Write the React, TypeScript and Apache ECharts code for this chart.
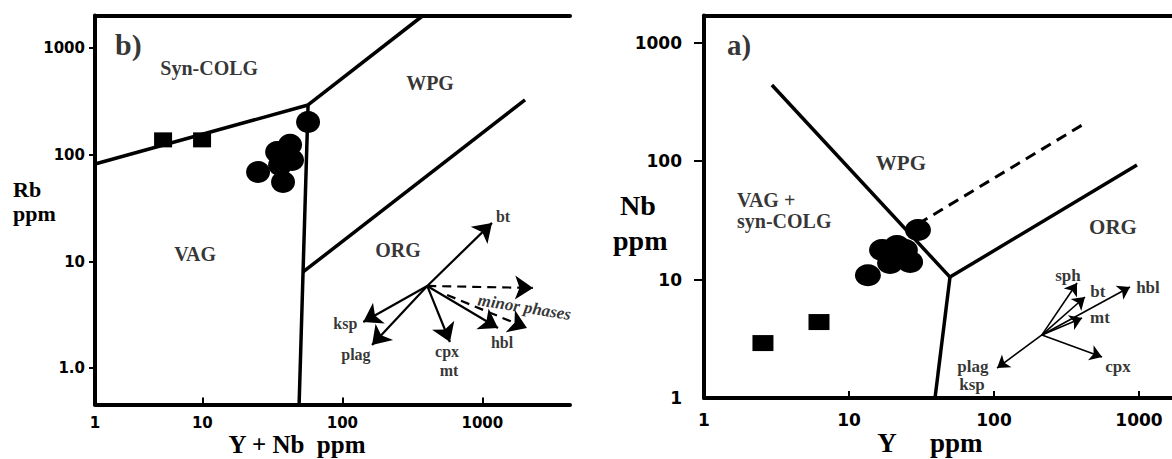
import React, { useEffect, useRef } from "react";
import * as echarts from "echarts";

type P = [number, number];

// ===== Panel b) : Rb (ppm) versus Y + Nb (ppm) =====
const bXRange: P = [1.71, 4230];
const bYRange: P = [0.457, 2020];
const bXTickValues = [1, 10, 100, 1000];
const bXTickTexts = ["1", "10", "100", "1000"];
const bYTickValues = [1, 10, 100, 1000];
const bYTickTexts = ["1.0", "10", "100", "1000"];

const bSquares: P[] = [[5.24, 138], [9.95, 138]];
const bCircles: P[] = [
  [56.9, 203], [25.0, 69], [37.7, 55.7], [42.3, 124],
  [34.2, 106], [43.7, 89.5], [35.9, 80.4], [39.0, 99.8],
];
const bSynColgVag: P[] = [[1.71, 82], [56.9, 293]];
const bSynColgWpg: P[] = [[56.9, 293], [377, 2020]];
const bVagOrg: P[] = [[56.9, 293], [52.4, 7.98], [49.1, 0.457]];
const bOrgWpg: P[] = [[52.4, 7.98], [2018, 327]];

const bVectorOrigin: P = [404, 5.9];
const bVectorTips: P[] = [[1172, 23], [141, 2.71], [163, 1.65], [587, 1.76], [1294, 2.38]];
const bMinorPhaseVectors: [P, P][] = [
  [[404, 5.9], [2303, 5.65]],
  [[560, 4.86], [2084, 2.38]],
];
const bRegionNames = ["Syn-COLG", "WPG", "VAG", "ORG"];
const bRegionAt: P[] = [[11.2, 651], [423, 471], [8.87, 11.8], [250, 12.8]];
const bMineralNames = ["bt", "ksp", "plag", "cpx", "mt", "hbl"];
const bMineralAt: P[] = [[1406, 26.2], [105, 2.65], [125, 1.33], [560, 1.42], [578, 0.96], [1384, 1.76]];
const bMinorLabel = "minor phases";
const bMinorLabelAt: P = [931, 4.37];
const bPanelLabel = "b)";
const bPanelLabelAt: P = [2.38, 1069];

// ===== Panel a) : Nb (ppm) versus Y (ppm) =====
const aXRange: P = [1, 1689];
const aYRange: P = [1, 1701];
const aXTickValues = [1, 10, 100, 1000];
const aXTickTexts = ["1", "10", "100", "1000"];
const aYTickValues = [1, 10, 100, 1000];
const aYTickTexts = ["1", "10", "100", "1000"];

const aSquares: P[] = [[2.55, 2.91], [6.21, 4.38]];
const aCircles: P[] = [
  [13.5, 10.9], [29.9, 26.2], [16.9, 17.8], [21.4, 19.2],
  [26.4, 14.1], [19.2, 13.8], [24.3, 17.8],
];
const aVagWpg: P[] = [[2.94, 440], [49.7, 10.5]];
const aVagOrg: P[] = [[49.7, 10.5], [39.2, 1]];
const aWpgOrg: P[] = [[49.7, 10.5], [968, 92.9]];
const aDashed: P[] = [[29.9, 29.5], [438, 214]];

const aVectorOrigin: P = [214, 3.41];
const aVectorTips: P[] = [[374, 9.36], [424, 7.13], [867, 8.66], [405, 4.74], [556, 2.22], [105, 1.79]];
const aRegionNames = ["WPG", "ORG"];
const aRegionAt: P[] = [[22.8, 96.6], [662, 27.8]];
const aVagNames = ["VAG +", "syn-COLG"];
const aVagAt: P[] = [[1.69, 47.0], [1.69, 31.3]];
const aMineralNames = ["sph", "bt", "hbl", "mt", "cpx", "plag", "ksp"];
const aMineralAt: P[] = [[324, 10.9], [521, 8.01], [1153, 8.66], [538, 4.74], [717, 1.83], [71.6, 1.86], [70.5, 1.29]];
const aPanelLabel = "a)";
const aPanelLabelAt: P = [1.44, 958];

// ===== helpers =====
const SERIF = "'Liberation Serif', 'Times New Roman', serif";
const SANS = "'DejaVu Sans', 'Liberation Sans', sans-serif";
const lg = (p: P): P => [Math.log10(p[0]), Math.log10(p[1])];
const lgR = (r: P): P => [Math.log10(r[0]), Math.log10(r[1])];

const nearest = (pos: number[], texts: string[]) => (v: number) => {
  let best = 0;
  for (let i = 1; i < pos.length; i++) {
    if (Math.abs(pos[i] - v) < Math.abs(pos[best] - v)) best = i;
  }
  return texts[best];
};

const bx = lgR(bXRange);
const by = lgR(bYRange);
const ax = lgR(aXRange);
const ay = lgR(aYRange);

const bXLabelPos = bXTickValues.map((v) => Math.max(Math.log10(v), bx[0]));
const bYLabelPos = bYTickValues.map((v) => Math.log10(v));
const aXLabelPos = aXTickValues.map((v) => Math.log10(v));
const aYLabelPos = aYTickValues.map((v) => Math.log10(v));

const black = "#000";

function bottomAxis(grid: number, r: P, labelPos: number[], texts: string[], fontSize: number, margin: number) {
  return {
    type: "value",
    gridIndex: grid,
    position: "bottom",
    min: r[0],
    max: r[1],
    axisLine: { show: true, onZero: false, lineStyle: { color: black, width: 4 } },
    axisTick: {
      show: true,
      inside: true,
      length: 7,
      lineStyle: { color: black, width: 2 },
      customValues: labelPos.filter((v) => v > r[0] + 0.01),
    },
    axisLabel: {
      show: true,
      customValues: labelPos,
      formatter: nearest(labelPos, texts),
      color: black,
      fontFamily: SANS,
      fontWeight: "bold",
      fontSize,
      margin,
    },
    splitLine: { show: false },
  };
}

function topAxis(grid: number, r: P) {
  return {
    type: "value",
    gridIndex: grid,
    position: "top",
    min: r[0],
    max: r[1],
    axisLine: { show: true, onZero: false, lineStyle: { color: black, width: 4 } },
    axisTick: { show: false },
    axisLabel: { show: false },
    splitLine: { show: false },
  };
}

function leftAxis(grid: number, r: P, labelPos: number[], texts: string[], fontSize: number, margin: number, tickLen: number) {
  return {
    type: "value",
    gridIndex: grid,
    position: "left",
    min: r[0],
    max: r[1],
    axisLine: { show: true, onZero: false, lineStyle: { color: black, width: 4 } },
    axisTick: {
      show: true,
      inside: false,
      length: tickLen,
      lineStyle: { color: black, width: 2 },
      customValues: labelPos.filter((v) => v > r[0] + 0.01 || grid === 0),
    },
    axisLabel: {
      show: true,
      customValues: labelPos,
      formatter: nearest(labelPos, texts),
      color: black,
      fontFamily: SANS,
      fontWeight: "bold",
      fontSize,
      margin,
    },
    splitLine: { show: false },
  };
}

function boundary(data: P[], xi: number, yi: number, width: number, dashed = false) {
  return {
    type: "line",
    xAxisIndex: xi,
    yAxisIndex: yi,
    data: data.map(lg),
    symbol: "none",
    silent: true,
    z: 2,
    lineStyle: { color: black, width, type: dashed ? [11, 7] : "solid" },
  };
}

function marks(data: P[], xi: number, yi: number, symbol: string, size: number[]) {
  return {
    type: "scatter",
    xAxisIndex: xi,
    yAxisIndex: yi,
    data: data.map(lg),
    symbol,
    symbolSize: size,
    itemStyle: { color: black, opacity: 1 },
    silent: true,
    z: 3,
  };
}

function arrows(pairs: [P, P][], xi: number, yi: number, size: number, width: number, dashed = false) {
  return {
    type: "lines",
    coordinateSystem: "cartesian2d",
    xAxisIndex: xi,
    yAxisIndex: yi,
    symbol: ["none", "arrow"],
    symbolSize: size,
    silent: true,
    z: 4,
    lineStyle: { color: black, width, opacity: 1, curveness: 0, type: dashed ? [9, 6] : "solid" },
    data: pairs.map(([a, b]) => ({ coords: [lg(a), lg(b)] })),
  };
}

function labels(names: string[], at: P[], xi: number, yi: number, fontSize: number, extra: any = {}) {
  return {
    type: "scatter",
    xAxisIndex: xi,
    yAxisIndex: yi,
    symbolSize: 0,
    silent: true,
    z: 6,
    itemStyle: { color: "transparent" },
    data: names.map((n, i) => ({ name: n, value: lg(at[i]) })),
    label: {
      show: true,
      position: "inside",
      formatter: "{b}",
      color: black,
      fontFamily: SERIF,
      fontWeight: "bold",
      fontSize,
      ...extra,
    },
  };
}

const titleText = (text: string, x: number, y: number, size: number, align = "left") => ({
  type: "text",
  x,
  y,
  silent: true,
  style: {
    text,
    fill: black,
    fontFamily: SERIF,
    fontWeight: "bold",
    fontSize: size,
    align,
    textAlign: align,
    verticalAlign: "middle",
    textVerticalAlign: "middle",
  },
});

const option: any = {
  animation: false,
  backgroundColor: "#fff",
  grid: [
    { left: 95, top: 15.5, width: 475, height: 389, containLabel: false, outerBoundsMode: "none" },
    { left: 704, top: 15.5, width: 468, height: 382.5, containLabel: false, outerBoundsMode: "none" },
  ],
  xAxis: [
    bottomAxis(0, bx, bXLabelPos, bXTickTexts, 15, 11),
    topAxis(0, bx),
    bottomAxis(1, ax, aXLabelPos, aXTickTexts, 17, 13),
    topAxis(1, ax),
  ],
  yAxis: [
    leftAxis(0, by, bYLabelPos, bYTickTexts, 15, 10, 6),
    leftAxis(1, ay, aYLabelPos, aYTickTexts, 17, 22, 10),
  ],
  series: [
    // panel b
    boundary(bSynColgVag, 0, 0, 3.5),
    boundary(bSynColgWpg, 0, 0, 3.5),
    boundary(bVagOrg, 0, 0, 3.5),
    boundary(bOrgWpg, 0, 0, 3.5),
    marks(bCircles, 0, 0, "circle", [24, 22]),
    marks(bSquares, 0, 0, "rect", [18, 15]),
    arrows(bVectorTips.map((t) => [bVectorOrigin, t] as [P, P]), 0, 0, 18, 2.2),
    arrows(bMinorPhaseVectors, 0, 0, 18, 2.2, true),
    labels(bRegionNames, bRegionAt, 0, 0, 20),
    labels(bMineralNames, bMineralAt, 0, 0, 16),
    labels([bMinorLabel], [bMinorLabelAt], 0, 0, 17, { align: "left", rotate: -9, fontStyle: "italic" }),
    labels([bPanelLabel], [bPanelLabelAt], 0, 0, 30, { align: "left" }),
    // panel a
    boundary(aVagWpg, 2, 1, 3.5),
    boundary(aVagOrg, 2, 1, 3.5),
    boundary(aWpgOrg, 2, 1, 3.5),
    boundary(aDashed, 2, 1, 3, true),
    marks(aCircles, 2, 1, "circle", [26, 22]),
    marks(aSquares, 2, 1, "rect", [21, 16]),
    arrows(aVectorTips.map((t) => [aVectorOrigin, t] as [P, P]), 2, 1, 12, 1.6),
    labels(aRegionNames, aRegionAt, 2, 1, 21),
    labels(aVagNames, aVagAt, 2, 1, 20, { align: "left" }),
    labels(aMineralNames, aMineralAt, 2, 1, 17),
    labels([aPanelLabel], [aPanelLabelAt], 2, 1, 29, { align: "left" }),
  ],
  graphic: [
    titleText("Rb", 13, 189, 22),
    titleText("ppm", 13, 213, 22),
    titleText("Y + Nb  ppm", 297, 444, 25, "center"),
    titleText("Nb", 620, 205, 28),
    titleText("ppm", 613, 240, 28),
    titleText("Y", 887, 443, 27, "center"),
    titleText("ppm", 930, 443, 27),
  ],
};

export default function App() {
  const ref = useRef<HTMLDivElement>(null);
  useEffect(() => {
    if (!ref.current) return;
    const chart = echarts.init(ref.current, undefined, { renderer: "svg" });
    chart.setOption(option);
    return () => chart.dispose();
  }, []);
  return (
    <div
      ref={ref}
      style={{ position: "fixed", left: 0, top: 0, width: 1172, height: 459, background: "#fff" }}
    />
  );
}
